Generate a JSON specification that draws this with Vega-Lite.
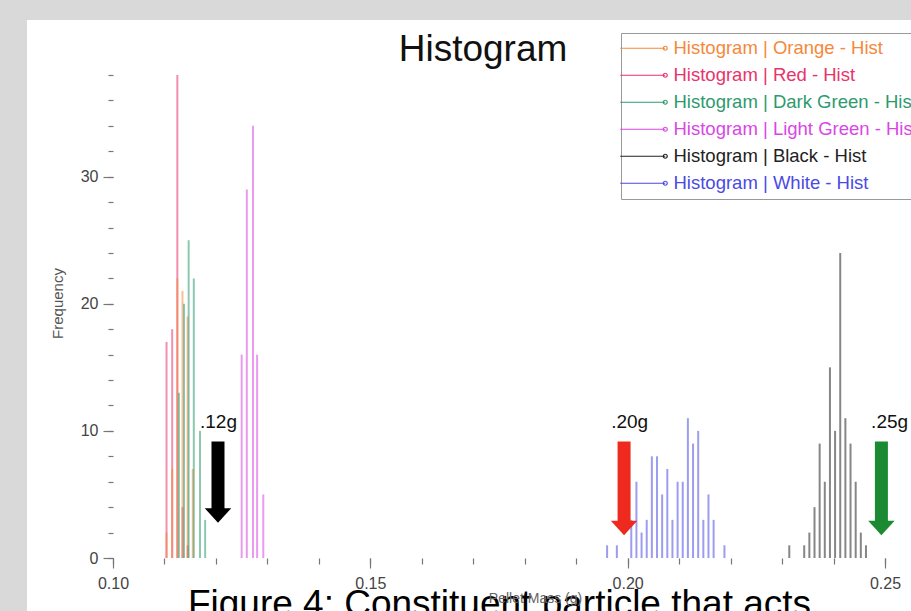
{
  "$schema": "https://vega.github.io/schema/vega-lite/v6.json",
  "width": 884,
  "height": 591,
  "autosize": {"type": "none"},
  "padding": {"left": 27, "top": 20, "right": 0, "bottom": 0},
  "background": "#d9d9d9",
  "view": {"fill": "white", "stroke": null},
  "config": {"font": "Liberation Sans"},
  "title": {"text": "Histogram", "font": "Liberation Sans", "fontSize": 37, "fontWeight": "normal", "color": "#111", "anchor": "middle", "frame": "group", "offset": 0, "baseline": "alphabetic", "dx": 14, "dy": 78, "zindex": 2},
  "datasets": {
    "hist": [
      {"series": "Red", "mass": 0.1104, "count": 17},
      {"series": "Red", "mass": 0.1115, "count": 18},
      {"series": "Red", "mass": 0.1125, "count": 38},
      {"series": "Red", "mass": 0.1135, "count": 4},
      {"series": "Red", "mass": 0.1145, "count": 1},
      {"series": "Orange", "mass": 0.1104, "count": 2},
      {"series": "Orange", "mass": 0.1115, "count": 7},
      {"series": "Orange", "mass": 0.1125, "count": 22},
      {"series": "Orange", "mass": 0.1135, "count": 21},
      {"series": "Orange", "mass": 0.1145, "count": 19},
      {"series": "Orange", "mass": 0.1155, "count": 7},
      {"series": "Dark Green", "mass": 0.1128, "count": 13},
      {"series": "Dark Green", "mass": 0.1138, "count": 20},
      {"series": "Dark Green", "mass": 0.1147, "count": 25},
      {"series": "Dark Green", "mass": 0.1157, "count": 22},
      {"series": "Dark Green", "mass": 0.1169, "count": 10},
      {"series": "Dark Green", "mass": 0.1179, "count": 3},
      {"series": "Light Green", "mass": 0.1250, "count": 16},
      {"series": "Light Green", "mass": 0.1260, "count": 29},
      {"series": "Light Green", "mass": 0.1272, "count": 34},
      {"series": "Light Green", "mass": 0.1280, "count": 16},
      {"series": "Light Green", "mass": 0.1292, "count": 5},
      {"series": "Black", "mass": 0.2314, "count": 1},
      {"series": "Black", "mass": 0.2343, "count": 1},
      {"series": "Black", "mass": 0.2353, "count": 2},
      {"series": "Black", "mass": 0.2363, "count": 4},
      {"series": "Black", "mass": 0.2373, "count": 9},
      {"series": "Black", "mass": 0.2383, "count": 6},
      {"series": "Black", "mass": 0.2393, "count": 15},
      {"series": "Black", "mass": 0.2403, "count": 10},
      {"series": "Black", "mass": 0.2413, "count": 24},
      {"series": "Black", "mass": 0.2423, "count": 11},
      {"series": "Black", "mass": 0.2433, "count": 9},
      {"series": "Black", "mass": 0.2443, "count": 6},
      {"series": "Black", "mass": 0.2453, "count": 2},
      {"series": "Black", "mass": 0.2463, "count": 1},
      {"series": "White", "mass": 0.1960, "count": 1},
      {"series": "White", "mass": 0.1979, "count": 1},
      {"series": "White", "mass": 0.2007, "count": 3},
      {"series": "White", "mass": 0.2017, "count": 6},
      {"series": "White", "mass": 0.2027, "count": 2},
      {"series": "White", "mass": 0.2037, "count": 3},
      {"series": "White", "mass": 0.2047, "count": 8},
      {"series": "White", "mass": 0.2057, "count": 8},
      {"series": "White", "mass": 0.2067, "count": 5},
      {"series": "White", "mass": 0.2077, "count": 7},
      {"series": "White", "mass": 0.2087, "count": 3},
      {"series": "White", "mass": 0.2097, "count": 6},
      {"series": "White", "mass": 0.2107, "count": 6},
      {"series": "White", "mass": 0.2117, "count": 11},
      {"series": "White", "mass": 0.2127, "count": 9},
      {"series": "White", "mass": 0.2137, "count": 10},
      {"series": "White", "mass": 0.2147, "count": 3},
      {"series": "White", "mass": 0.2157, "count": 5},
      {"series": "White", "mass": 0.2167, "count": 3},
      {"series": "White", "mass": 0.2188, "count": 1}
    ],
    "arrows": [
      {"label": ".12g", "mass": 0.1204, "top": 9.17, "bottom": 3.75, "head": 3.34, "text_mass": 0.1169, "text_y": 10.2},
      {"label": ".20g", "mass": 0.1993, "top": 9.17, "bottom": 2.8, "head": 2.36, "text_mass": 0.1968, "text_y": 10.2},
      {"label": ".25g", "mass": 0.2493, "top": 9.17, "bottom": 2.8, "head": 2.36, "text_mass": 0.2473, "text_y": 10.2}
    ]
  },
  "layer": [
    {
      "data": {"name": "hist"},
      "mark": {"type": "rule", "strokeWidth": 2, "opacity": 0.55},
      "encoding": {
        "x": {"field": "mass", "type": "quantitative",
          "scale": {"domain": [0.08329, 0.25505], "nice": false, "zero": false},
          "axis": {"orient": "bottom", "values": [0.1, 0.15, 0.2, 0.25], "format": ".2f", "offset": -53, "domain": false, "grid": false,
            "tickSize": 10, "tickColor": "#777", "tickWidth": 1.2, "labelFontSize": 16, "labelColor": "#444", "labelPadding": 7,
            "title": "Figure 4: Constituent particle that acts", "titleFontSize": 37, "titleFontWeight": "normal", "titleColor": "#000",
            "titleX": 472, "titleY": 57, "titleBaseline": "alphabetic", "zindex": 0}},
        "y": {"field": "count", "type": "quantitative",
          "scale": {"domain": [-4.17, 42.33], "nice": false, "zero": false},
          "axis": {"orient": "left", "values": [0, 10, 20, 30], "offset": -86, "domain": false, "grid": false,
            "tickSize": 10, "tickColor": "#777", "tickWidth": 1.2, "labelFontSize": 16, "labelColor": "#444", "labelPadding": 5,
            "title": "Frequency", "titleFontSize": 15, "titleFontWeight": "normal", "titleColor": "#555",
            "titleX": -56, "titleY": 283, "titleAlign": "center", "titleBaseline": "middle", "zindex": 1}},
        "y2": {"datum": 0},
        "color": {"field": "series", "type": "nominal",
          "scale": {"domain": ["Orange", "Red", "Dark Green", "Light Green", "Black", "White"],
            "range": ["#f5883a", "#e8336b", "#2e9a6e", "#d946e6", "#222222", "#4a4ae6"]},
          "legend": {"orient": "none", "legendX": 594, "legendY": 13, "title": null,
            "labelExpr": "'Histogram | ' + datum.label + ' - Hist'",
            "labelFontSize": 18.5, "labelOffset": 2, "labelLimit": 400,
            "symbolType": "M -8.4 0 L 0.6 0 M 0.6 0 m -0.4 0 a 0.4 0.4 0 1 0 0.8 0 a 0.4 0.4 0 1 0 -0.8 0",
            "symbolSize": 100, "symbolOffset": 26, "symbolStrokeWidth": 1.2, "symbolFillColor": "white", "symbolOpacity": 1,
            "strokeColor": "#999", "fillColor": "white", "padding": 6, "rowPadding": 8, "offset": 0,
            "zindex": 2,
            "encode": {"labels": {"update": {"fill": {"signal": "scale('color', datum.value)"}}}}}}
      }
    },
    {
      "mark": {"type": "rule", "color": "#777", "strokeWidth": 1.2},
      "encoding": {
        "x": {"datum": 0.1, "type": "quantitative",
          "scale": {"domain": [0.08329, 0.25505], "nice": false, "zero": false},
          "axis": {"orient": "bottom", "values": [0.1, 0.11, 0.12, 0.13, 0.14, 0.15, 0.16, 0.17, 0.18, 0.19, 0.2, 0.21, 0.22, 0.23, 0.24, 0.25],
            "labels": false, "offset": -53, "domain": false, "grid": false, "tickSize": 6, "tickColor": "#777", "tickWidth": 1.2,
            "title": "Pellet Mass (g)", "titleFontSize": 14, "titleFontWeight": "normal", "titleColor": "#666",
            "titleX": 508, "titleY": 44, "titleBaseline": "alphabetic", "zindex": 3}},
        "y": {"datum": 0, "type": "quantitative",
          "scale": {"domain": [-4.17, 42.33], "nice": false, "zero": false},
          "axis": {"orient": "left", "values": [0, 2, 4, 6, 8, 10, 12, 14, 16, 18, 20, 22, 24, 26, 28, 30, 32, 34, 36, 38],
            "labels": false, "offset": -86, "domain": false, "grid": false, "tickSize": 5, "tickColor": "#777", "tickWidth": 1.2,
            "title": null, "zindex": 1}},
        "y2": {"datum": 38}
      }
    },
    {
      "mark": {"type": "rule", "color": "#777", "strokeWidth": 1.2},
      "encoding": {
        "x": {"datum": 0.1, "type": "quantitative", "axis": null},
        "x2": {"datum": 0.25505},
        "y": {"datum": 0, "type": "quantitative", "axis": null}
      }
    },
    {
      "data": {"name": "arrows"},
      "mark": {"type": "rule", "strokeWidth": 13, "strokeCap": "butt"},
      "encoding": {
        "x": {"field": "mass", "type": "quantitative", "axis": null},
        "y": {"field": "top", "type": "quantitative", "axis": null},
        "y2": {"field": "bottom"},
        "stroke": {"field": "label", "type": "nominal", "legend": null,
          "scale": {"domain": [".12g", ".20g", ".25g"], "range": ["#000000", "#ee2a1e", "#1b8a32"]}}
      }
    },
    {
      "data": {"name": "arrows"},
      "mark": {"type": "point", "filled": true, "opacity": 1, "size": 700, "shape": "M -1 -0.55 L 1 -0.55 L 0 0.55 Z"},
      "encoding": {
        "x": {"field": "mass", "type": "quantitative", "axis": null},
        "y": {"field": "head", "type": "quantitative", "axis": null},
        "fill": {"field": "label", "type": "nominal", "legend": null,
          "scale": {"domain": [".12g", ".20g", ".25g"], "range": ["#000000", "#ee2a1e", "#1b8a32"]}}
      }
    },
    {
      "data": {"name": "arrows"},
      "mark": {"type": "text", "align": "left", "baseline": "alphabetic", "fontSize": 19, "color": "#111"},
      "encoding": {
        "x": {"field": "text_mass", "type": "quantitative", "axis": null},
        "y": {"field": "text_y", "type": "quantitative", "axis": null},
        "text": {"field": "label"}
      }
    }
  ],
  "resolve": {"axis": {"x": "independent", "y": "independent"}}
}
